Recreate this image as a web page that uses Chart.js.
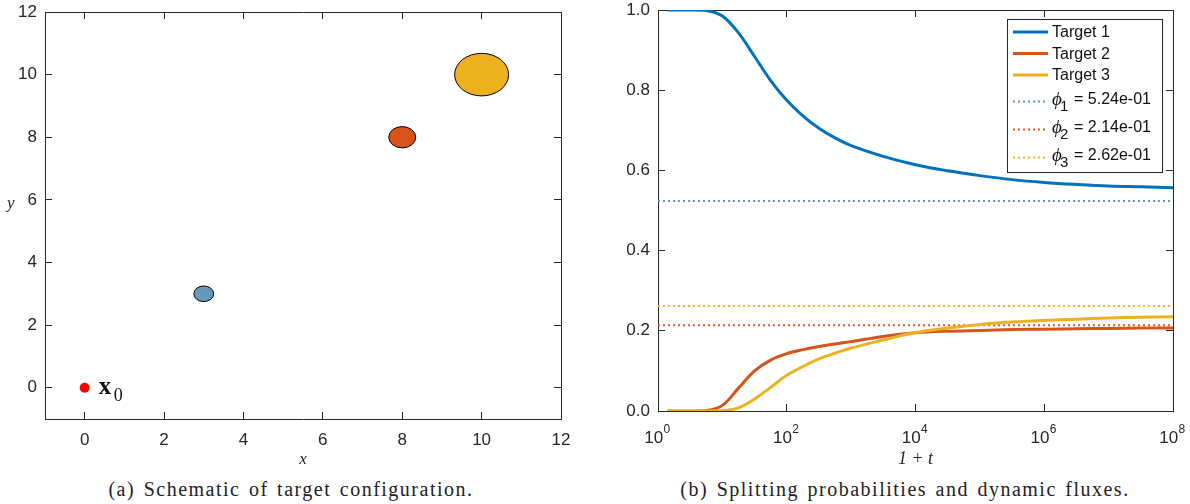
<!DOCTYPE html>
<html>
<head>
<meta charset="utf-8">
<script src="https://cdn.jsdelivr.net/npm/chart.js@4.4.1/dist/chart.umd.min.js"></script>
<style>
    body {
        margin: 0;
        background: #fff;
        width: 1190px;
        height: 504px;
        position: relative;
        overflow: hidden;
    }
    .wrap {
        position: absolute;
        top: 0;
        width: 590px;
        height: 470px;
    }
    .axis-y {
        position: absolute;
        left: 7px;
        top: 193px;
        font: italic 17px 'Liberation Serif', serif;
        color: #262626;
    }
    .caption {
        position: absolute;
        top: 478px;
        width: 560px;
        text-align: center;
        font: 20px 'Liberation Serif', serif;
        letter-spacing: 1.5px;
        word-spacing: 2px;
        color: #222;
    }
</style>
</head>
<body>
<div class="wrap" style="left: 0"><canvas id="chartA"></canvas></div>
<div class="wrap" style="left: 600px"><canvas id="chartB"></canvas></div>
<div class="axis-y">y</div>
<div class="caption" style="left: 11px">(a) Schematic of target configuration.</div>
<div class="caption" style="left: 625px">(b) Splitting probabilities and dynamic fluxes.</div>

<script>
// (a) target layout
const startX = [0];
const startY = [0];
const targetX = [3, 8, 10];
const targetY = [3, 8, 10];
const targetR = [0.25, 0.34, 0.68];
const targetColors = ['#6699bb', '#d95319', '#edb120'];
const planeTicks = [0, 2, 4, 6, 8, 10, 12];

// (b) splitting probabilities vs 1 + t
const timePts = [1.41, 3.16, 5.62, 10, 17.8, 31.6, 56.2, 100, 178, 316, 562, 1000,
    3160, 1e4, 3.16e4, 1e5, 3.16e5, 1e6, 3.16e6, 1e7, 3.16e7, 1e8];
const target1 = [1.0, 1.0, 0.999, 0.985, 0.943, 0.884, 0.824, 0.775, 0.736, 0.705, 0.681, 0.662,
    0.635, 0.614, 0.599, 0.587, 0.577, 0.570, 0.565, 0.561, 0.559, 0.557];
const target2 = [0, 0, 0.001, 0.014, 0.057, 0.100, 0.127, 0.143, 0.153, 0.161, 0.167, 0.173,
    0.186, 0.195, 0.199, 0.201, 0.203, 0.204, 0.205, 0.206, 0.207, 0.207];
const target3 = [0, 0, 0, 0.001, 0.008, 0.030, 0.059, 0.089, 0.111, 0.130, 0.144, 0.157,
    0.177, 0.196, 0.207, 0.216, 0.222, 0.226, 0.229, 0.232, 0.234, 0.235];
const phiVals = [0.524, 0.214, 0.262];
const logTicks = [1, 100, 1e4, 1e6, 1e8];
const probTicks = [0, 0.2, 0.4, 0.6, 0.8, 1.0];

const lineColors = ['#0072bd', '#d95319', '#edb120'];
const dotColors = ['#5b98c4', '#e0582a', '#f0b52a'];
const axisColor = '#262626';
const tickFont = { family: "'Liberation Sans', Arial, sans-serif", size: 17 };

Chart.defaults.animation = false;
Chart.defaults.devicePixelRatio = 1;
Chart.defaults.plugins.legend.display = false;
Chart.defaults.plugins.tooltip.enabled = false;

// fixed axis thickness, no extra label padding in the layout
function fixSize(key, size) {
    return (s) => {
        s[key] = size;
        s.paddingTop = 0;
        s.paddingBottom = 0;
        s.paddingLeft = 0;
        s.paddingRight = 0;
    };
}

// inward tick marks, no grid
function boxAxis(extra) {
    return Object.assign({
        display: true,
        grid: { drawOnChartArea: false, tickLength: -7, color: axisColor, lineWidth: 1 },
        border: { color: axisColor, width: 1 },
    }, extra);
}

function sci(v) {
    const [m, e] = v.toExponential(2).split('e');
    const n = parseInt(e, 10);
    return m + 'e' + (n < 0 ? '-' : '+') + String(Math.abs(n)).padStart(2, '0');
}

/* ---------- (a) ---------- */
const targetsPlugin = {
    id: 'targets',
    beforeDatasetsDraw(chart) {
        const { ctx, scales: { x, y } } = chart;
        targetX.forEach((cx, i) => {
            const px = x.getPixelForValue(cx);
            const py = y.getPixelForValue(targetY[i]);
            const rx = Math.abs(x.getPixelForValue(cx + targetR[i]) - px);
            const ry = Math.abs(y.getPixelForValue(targetY[i] + targetR[i]) - py);
            ctx.save();
            ctx.beginPath();
            ctx.ellipse(px, py, rx, ry, 0, 0, Math.PI * 2);
            ctx.fillStyle = targetColors[i];
            ctx.fill();
            ctx.lineWidth = 1;
            ctx.strokeStyle = '#000';
            ctx.stroke();
            ctx.restore();
        });
    },
    afterDatasetsDraw(chart) {
        // x_0 label next to the start point
        const { ctx, scales: { x, y } } = chart;
        const px = x.getPixelForValue(startX[0]);
        const py = y.getPixelForValue(startY[0]);
        ctx.save();
        ctx.fillStyle = '#111';
        ctx.textBaseline = 'alphabetic';
        ctx.font = "bold 25px 'Liberation Serif', serif";
        ctx.fillText('x', px + 14, py + 6);
        ctx.font = "18px 'Liberation Serif', serif";
        ctx.fillText('0', px + 29, py + 13);
        ctx.restore();
    },
};

new Chart(document.getElementById('chartA'), {
    type: 'scatter',
    data: {
        datasets: [{
            label: 'start',
            data: startX.map((v, i) => ({ x: v, y: startY[i] })),
            pointRadius: 5,
            pointBackgroundColor: '#ff0000',
            pointBorderWidth: 0,
        }],
    },
    options: {
        responsive: true,
        maintainAspectRatio: false,
        layout: { padding: { top: 12, right: 29, left: 0, bottom: 0 } },
        scales: {
            x: boxAxis({
                type: 'linear', position: 'bottom', min: -1, max: 12,
                afterBuildTicks: (s) => { s.ticks = planeTicks.map((v) => ({ value: v })); },
                afterFit: fixSize('height', 51),
                ticks: { font: tickFont, color: axisColor, padding: 18, maxRotation: 0 },
                title: { display: true, text: 'x', padding: 0, color: axisColor,
                    font: { family: "'Liberation Serif', serif", size: 17, style: 'italic' } },
            }),
            x2: boxAxis({
                type: 'linear', position: 'top', min: -1, max: 12,
                afterBuildTicks: (s) => { s.ticks = planeTicks.map((v) => ({ value: v })); },
                afterFit: fixSize('height', 0),
                ticks: { display: false },
            }),
            y: boxAxis({
                type: 'linear', position: 'left', min: -1, max: 12,
                afterBuildTicks: (s) => { s.ticks = planeTicks.map((v) => ({ value: v })); },
                afterFit: fixSize('width', 45),
                ticks: { font: tickFont, color: axisColor, padding: 15 },
            }),
            y2: boxAxis({
                type: 'linear', position: 'right', min: -1, max: 12,
                afterBuildTicks: (s) => { s.ticks = planeTicks.map((v) => ({ value: v })); },
                afterFit: fixSize('width', 0),
                ticks: { display: false },
            }),
        },
    },
    plugins: [targetsPlugin],
});

/* ---------- (b) ---------- */
const logLabelsPlugin = {
    id: 'logLabels',
    afterDraw(chart) {
        const { ctx, scales: { x }, chartArea } = chart;
        ctx.save();
        ctx.fillStyle = axisColor;
        ctx.textBaseline = 'middle';
        x.ticks.forEach((t) => {
            const px = x.getPixelForValue(t.value);
            const exp = String(Math.round(Math.log10(t.value)));
            ctx.font = "17px 'Liberation Sans', Arial, sans-serif";
            const w1 = ctx.measureText('10').width;
            ctx.font = "12px 'Liberation Sans', Arial, sans-serif";
            const w2 = ctx.measureText(exp).width;
            const left = px - (w1 + w2) / 2 - 1;
            ctx.font = "17px 'Liberation Sans', Arial, sans-serif";
            ctx.fillText('10', left, chartArea.bottom + 27);
            ctx.font = "12px 'Liberation Sans', Arial, sans-serif";
            ctx.fillText(exp, left + w1 + 0.5, chartArea.bottom + 19);
        });
        ctx.restore();
    },
};

const boxLegendPlugin = {
    id: 'boxLegend',
    afterDraw(chart) {
        const { ctx, chartArea } = chart;
        const sets = chart.data.datasets;
        const right = chartArea.right - 10;
        const top = chartArea.top + 9;
        const w = 156;
        const h = 154;
        const left = right - w;
        ctx.save();
        ctx.fillStyle = '#fff';
        ctx.fillRect(left, top, w, h);
        ctx.strokeStyle = axisColor;
        ctx.lineWidth = 1;
        ctx.strokeRect(left + 0.5, top + 0.5, w - 1, h - 1);

        let y = top + 13;
        sets.forEach((ds, i) => {
            const isPhi = ds.label.startsWith('ϕ');
            if (isPhi && i > 0 && !sets[i - 1].label.startsWith('ϕ')) y += 3;
            ctx.beginPath();
            ctx.setLineDash(ds.borderDash || []);
            ctx.strokeStyle = ds.borderColor;
            ctx.lineWidth = ds.borderWidth;
            ctx.moveTo(left + 6, isPhi ? y + 2 : y);
            ctx.lineTo(left + 41, isPhi ? y + 2 : y);
            ctx.stroke();
            ctx.setLineDash([]);
            ctx.fillStyle = '#111';
            ctx.textBaseline = 'middle';
            const tx = left + 45;
            if (isPhi) {
                const sub = String(ds.label.charCodeAt(1) - 0x2080);
                const rest = ds.label.slice(3);
                ctx.font = "italic 19px 'Liberation Serif', serif";
                ctx.fillText('ϕ', tx, y);
                ctx.font = "15px 'Liberation Sans', Arial, sans-serif";
                ctx.fillText(sub, tx + 8, y + 7);
                ctx.font = "16px 'Liberation Sans', Arial, sans-serif";
                ctx.fillText(rest, tx + 22, y);
                y += 28;
            } else {
                ctx.font = "16px 'Liberation Sans', Arial, sans-serif";
                ctx.fillText(ds.label, tx, y + 1);
                y += 21.5;
            }
        });
        ctx.restore();
    },
};

const toPts = (vals) => vals.map((v, i) => ({ x: timePts[i], y: v }));
const flat = (v) => [{ x: logTicks[0], y: v }, { x: logTicks[logTicks.length - 1], y: v }];

const solidSets = [target1, target2, target3].map((vals, i) => ({
    label: 'Target ' + (i + 1),
    data: toPts(vals),
    borderColor: lineColors[i],
    borderWidth: 3,
    pointRadius: 0,
    tension: 0.35,
    order: 3 - i,
}));
const phiSets = phiVals.map((v, i) => ({
    label: 'ϕ' + String.fromCharCode(0x2081 + i) + ' = ' + sci(v),
    data: flat(v),
    borderColor: dotColors[i],
    borderWidth: 2,
    borderDash: [2, 3],
    pointRadius: 0,
    order: 10 + i,
}));

new Chart(document.getElementById('chartB'), {
    type: 'line',
    data: { datasets: solidSets.concat(phiSets) },
    options: {
        responsive: true,
        maintainAspectRatio: false,
        layout: { padding: { top: 10, right: 17, left: 0, bottom: 0 } },
        scales: {
            x: boxAxis({
                type: 'logarithmic', position: 'bottom', min: 1, max: 1e8,
                afterBuildTicks: (s) => { s.ticks = logTicks.map((v) => ({ value: v })); },
                afterFit: fixSize('height', 59),
                ticks: { display: false },
                title: { display: true, text: '1 + t', padding: 0, color: axisColor,
                    font: { family: "'Liberation Serif', serif", size: 18, style: 'italic' } },
            }),
            x2: boxAxis({
                type: 'logarithmic', position: 'top', min: 1, max: 1e8,
                afterBuildTicks: (s) => { s.ticks = logTicks.map((v) => ({ value: v })); },
                afterFit: fixSize('height', 0),
                ticks: { display: false },
            }),
            y: boxAxis({
                type: 'linear', position: 'left', min: 0, max: 1,
                afterBuildTicks: (s) => { s.ticks = probTicks.map((v) => ({ value: v })); },
                afterFit: fixSize('width', 58),
                ticks: { font: tickFont, color: axisColor, padding: 15,
                    callback: (v) => Number(v).toFixed(1) },
            }),
            y2: boxAxis({
                type: 'linear', position: 'right', min: 0, max: 1,
                afterBuildTicks: (s) => { s.ticks = probTicks.map((v) => ({ value: v })); },
                afterFit: fixSize('width', 0),
                ticks: { display: false },
            }),
        },
    },
    plugins: [logLabelsPlugin, boxLegendPlugin],
});
</script>
</body>
</html>
